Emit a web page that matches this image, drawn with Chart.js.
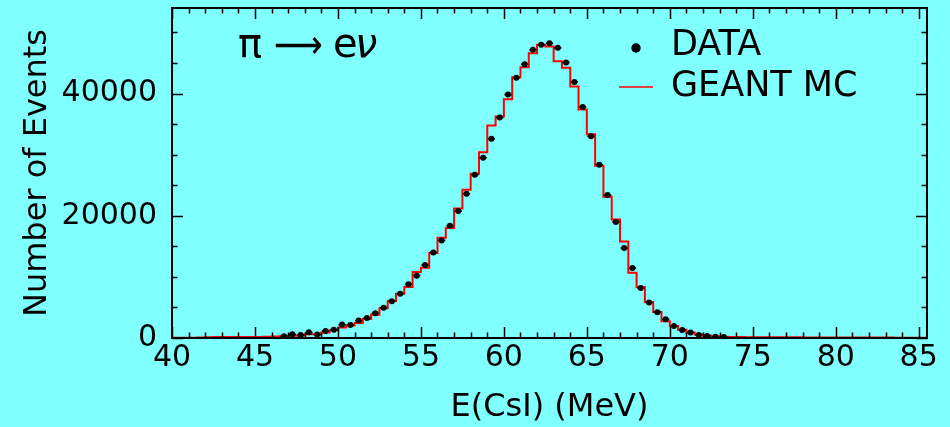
<!DOCTYPE html>
<html>
<head>
<meta charset="utf-8">
<script src="https://cdn.jsdelivr.net/npm/chart.js@4.4.0/dist/chart.umd.min.js"></script>
<style>
  html, body { margin: 0; padding: 0; background: #80ffff; }
  #wrap { width: 950px; height: 427px; }
</style>
</head>
<body>
<div id="wrap"><canvas id="chart" width="950" height="427"></canvas></div>
<script>
// Histogram binning (MeV)
const binStart = 40;
const binWidth = 0.5;

// GEANT MC counts per 0.5 MeV bin, bins 40.0 .. 85.0 (left edges)
const mcCounts = [
  60, 60, 60, 80, 120, 150, 150, 150, 150, 170,
  170, 200, 250, 280, 350, 420, 600, 620, 880, 1260,
  1700, 2030, 2450, 3100, 3800, 4850, 6050, 7260, 8340, 10790,
  11510, 13900, 16420, 17990, 21210, 24250, 26880, 30410, 34780, 36250,
  39080, 42670, 44310, 46600, 47970, 47690, 45290, 44230, 41150, 37390,
  33350, 28190, 23120, 19410, 15810, 10690, 8340, 5890, 4250, 2730,
  1960, 1370, 880, 555, 390, 280, 220, 180, 150, 140,
  130, 130, 120, 120, 110, 110, 100, 100, 100, 90,
  90, 90, 80, 80, 70, 70, 70, 60, 60, 60, 60
];

// Measured data, bin centres from 46.75 MeV
const dataStart = 46.75;
const dataCounts = [
  300, 605, 490, 930, 555, 1145, 1370, 2190, 2125, 2845,
  3270, 4040, 4970, 6030, 7260, 8780, 10200, 11940, 14010, 15970,
  18380, 20770, 23610, 26720, 29500, 32600, 36080, 39840, 42570, 44800,
  47150, 47970, 48230, 47480, 45080, 41900, 37800, 33030, 28350, 23380,
  18970, 14720, 11450, 8180, 5790, 4200, 3060, 1960, 1310, 880,
  490, 330, 200, 150
];

const xTicks = [40, 45, 50, 55, 60, 65, 70, 75, 80, 85];
const yTicks = [0, 20000, 40000];
const xMinorStep = 1;
const yMinorStep = 5000;

const FONT = "'DejaVu Sans ExtraLight', 'DejaVu Sans', sans-serif";

// step histogram points (last bin closed at right edge)
const mcPoints = mcCounts.map((v, i) => ({ x: binStart + i * binWidth, y: v }));
mcPoints.push({ x: binStart + mcCounts.length * binWidth, y: mcCounts[mcCounts.length - 1] });

const dataPoints = dataCounts.map((v, i) => ({ x: dataStart + i * binWidth, y: v }));

// frame, inward ticks on all four sides, error bars, legend, label
const framePlugin = {
  id: "frame",
  afterDatasetsDraw(chart) {
    const ctx = chart.ctx;
    const xs = chart.scales.x, ys = chart.scales.y;
    // horizontal error bars on the data points
    ctx.save();
    ctx.strokeStyle = "#000";
    ctx.lineWidth = 1.5;
    dataPoints.forEach((p) => {
      const py = ys.getPixelForValue(p.y);
      ctx.beginPath();
      ctx.moveTo(xs.getPixelForValue(p.x - 0.22), py);
      ctx.lineTo(xs.getPixelForValue(p.x + 0.22), py);
      ctx.stroke();
    });
    ctx.restore();
  },
  afterDraw(chart) {
    const ctx = chart.ctx;
    const a = chart.chartArea;
    const xs = chart.scales.x, ys = chart.scales.y;
    ctx.save();
    ctx.strokeStyle = "#000";
    ctx.lineWidth = 2;
    ctx.strokeRect(a.left, a.top, a.right - a.left, a.bottom - a.top);

    ctx.lineWidth = 1.5;
    for (let v = xs.min; v <= xs.max; v += xMinorStep) {
      const px = Math.round(xs.getPixelForValue(v)) + 0.5;
      const len = xTicks.includes(v) ? 11 : 5.5;
      ctx.beginPath();
      ctx.moveTo(px, a.bottom); ctx.lineTo(px, a.bottom - len);
      ctx.moveTo(px, a.top); ctx.lineTo(px, a.top + len);
      ctx.stroke();
    }
    for (let v = 0; v <= ys.max; v += yMinorStep) {
      const py = Math.round(ys.getPixelForValue(v)) + 0.5;
      const len = yTicks.includes(v) ? 11 : 5.5;
      ctx.beginPath();
      ctx.moveTo(a.left, py); ctx.lineTo(a.left + len, py);
      ctx.moveTo(a.right, py); ctx.lineTo(a.right - len, py);
      ctx.stroke();
    }

    // legend
    ctx.fillStyle = "#000";
    ctx.beginPath();
    ctx.arc(636, 48, 4.7, 0, Math.PI * 2);
    ctx.fill();
    ctx.strokeStyle = "#ff0000";
    ctx.lineWidth = 1.5;
    ctx.beginPath();
    ctx.moveTo(619, 87); ctx.lineTo(653, 87);
    ctx.stroke();
    ctx.font = "35px " + FONT;
    ctx.textBaseline = "middle";
    ctx.textAlign = "left";
    ctx.fillText("DATA", 671, 46);
    ctx.fillText("GEANT MC", 671, 87);

    // decay label
    ctx.textBaseline = "alphabetic";
    ctx.font = "40px " + FONT;
    ctx.fillText("π", 238, 57);
    ctx.fillText("e", 333, 57);
    ctx.font = "italic 40px " + FONT;
    ctx.fillText("ν", 355, 57);
    ctx.font = "40px " + FONT;
    const arrow = "⟶";
    const w = ctx.measureText(arrow).width;
    ctx.save();
    ctx.translate(274, 58);
    ctx.scale(49 / w, 1);
    ctx.fillText(arrow, 0, 0);
    ctx.restore();
    ctx.restore();
  }
};

new Chart(document.getElementById("chart"), {
  type: "scatter",
  data: {
    datasets: [
      {
        label: "GEANT MC",
        data: mcPoints,
        showLine: true,
        stepped: "before",
        borderColor: "#ff0000",
        borderWidth: 2,
        pointRadius: 0,
        fill: false,
        order: 2,
      },
      {
        label: "DATA",
        data: dataPoints,
        showLine: false,
        pointRadius: 3,
        pointBackgroundColor: "#000",
        pointBorderColor: "#000",
        pointBorderWidth: 0,
        order: 1,
      },
    ],
  },
  plugins: [framePlugin],
  options: {
    responsive: false,
    animation: false,
    layout: { padding: { left: 0, right: 23, top: 8, bottom: 0 } },
    plugins: {
      legend: { display: false },
      tooltip: { enabled: false },
    },
    scales: {
      x: {
        type: "linear",
        min: 40,
        max: 85.5,
        afterBuildTicks: (s) => { s.ticks = xTicks.map((v) => ({ value: v })); },
        afterFit: (s) => {
          s.height = 89;
          s.paddingLeft = 0; s.paddingRight = 0;
        },
        grid: { display: false, drawTicks: false },
        border: { display: false },
        ticks: {
          color: "#000",
          padding: 2,
          maxRotation: 0,
          font: { family: FONT, size: 30 },
          callback: (v) => String(v),
        },
        title: {
          display: true,
          text: "E(CsI) (MeV)",
          color: "#000",
          font: { family: FONT, size: 32 },
          padding: { top: 0, bottom: 0 },
        },
      },
      y: {
        min: 0,
        max: 54000,
        afterBuildTicks: (s) => { s.ticks = yTicks.map((v) => ({ value: v })); },
        afterFit: (s) => {
          s.width = 172;
          s.paddingTop = 0; s.paddingBottom = 0;
        },
        grid: { display: false, drawTicks: false },
        border: { display: false },
        ticks: {
          color: "#000",
          padding: 15,
          font: { family: FONT, size: 30 },
          callback: (v) => String(v),
        },
        title: {
          display: true,
          text: "Number of Events",
          color: "#000",
          font: { family: FONT, size: 32 },
          padding: { top: 18, bottom: 0 },
        },
      },
    },
  },
});
</script>
</body>
</html>
